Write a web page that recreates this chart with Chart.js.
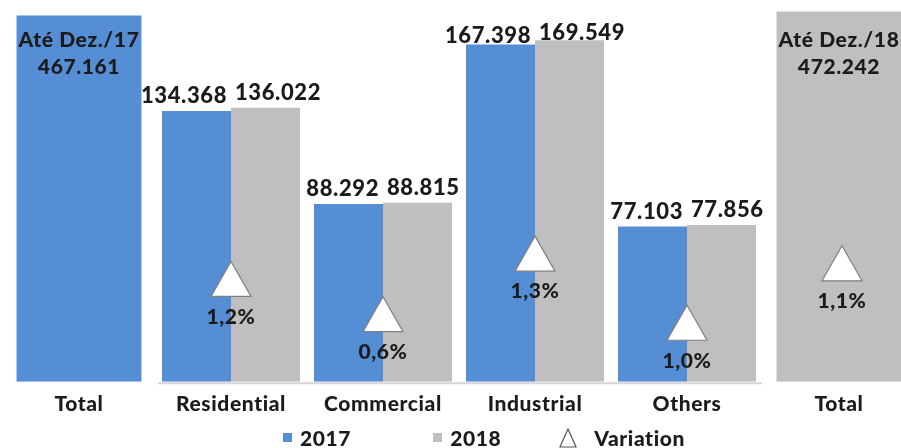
<!DOCTYPE html>
<html>
<head>
<meta charset="utf-8">
<title>Consumo por classe</title>
<script src="https://cdn.jsdelivr.net/npm/chart.js@4.4.1/dist/chart.umd.min.js"></script>
<style>
    html, body { margin: 0; padding: 0; background: #fff; overflow: hidden; }
    #wrap { position: relative; width: 918px; height: 448px; }
    #legend {
        position: absolute; top: 425px; left: 283px;
        display: flex; align-items: center;
        font: 900 21px Lato, sans-serif; letter-spacing: 0.6px; color: #1b1b1b;
    }
    #legend .item { display: flex; align-items: center; }
    #legend .swatch { width: 9px; height: 9px; margin-right: 8px; }
</style>
</head>
<body>
<div id="wrap">
    <canvas id="consumoChart"></canvas>
    <div id="legend">
        <div class="item" style="margin-right: 82px;"><span class="swatch" style="background:#558ed5"></span>2017</div>
        <div class="item" style="margin-right: 58px;"><span class="swatch" style="background:#bfbfbf"></span>2018</div>
        <div class="item">
            <svg width="18" height="20" style="margin-right: 17px;"><polygon points="9,1 17,19 1,19" fill="#fff" stroke="#555" stroke-width="1.2"/></svg>Variation
        </div>
    </div>
</div>
<script>
// Categories along the x axis (totals on both ends)
const categories = ['Total', 'Residential', 'Commercial', 'Industrial', 'Others', 'Total'];

// Consumption per class (thousands separator shown as '.')
const values2017 = [null, 134368, 88292, 167398, 77103, null];
const values2018 = [null, 136022, 88815, 169549, 77856, null];

// Yearly totals, drawn on their own axis
const total2017 = [467161, null, null, null, null, null];
const total2018 = [null, null, null, null, null, 472242];
const totalCaptions = ['Até Dez./17', null, null, null, null, 'Até Dez./18'];

// Variation 2018 vs 2017 (%)
const variation = [null, 1.2, 0.6, 1.3, 1.0, 1.1];

const BLUE = '#558ed5';
const GRAY = '#bfbfbf';
const TEXT = '#1b1b1b';
const FONT = 'Lato, sans-serif';
const SPACING = '0.6px';

function fmtThousands(v) {
    const s = String(v);
    return s.slice(0, -3) + '.' + s.slice(-3);
}

function fmtPct(v) {
    return v.toFixed(1).replace('.', ',') + '%';
}

function drawTriangle(ctx, x, cy, w, h) {
    ctx.beginPath();
    ctx.moveTo(x, cy - h / 2);
    ctx.lineTo(x + w / 2, cy + h / 2);
    ctx.lineTo(x - w / 2, cy + h / 2);
    ctx.closePath();
    ctx.fillStyle = '#ffffff';
    ctx.fill();
    ctx.strokeStyle = '#7f7f7f';
    ctx.lineWidth = 1.2;
    ctx.stroke();
}

// slightly wider tracking for every text drawn on the canvas (tick labels too)
const spacingPlugin = {
    id: 'letterSpacing',
    beforeUpdate(chart) { chart.ctx.letterSpacing = SPACING; },
    beforeDraw(chart) { chart.ctx.letterSpacing = SPACING; }
};

// Value labels, total captions and variation markers
const labelPlugin = {
    id: 'barLabels',
    afterDatasetsDraw(chart) {
        const ctx = chart.ctx;
        const area = chart.chartArea;
        const m17 = chart.getDatasetMeta(1);
        const m18 = chart.getDatasetMeta(2);
        ctx.save();
        ctx.letterSpacing = SPACING;
        ctx.textAlign = 'center';
        ctx.textBaseline = 'middle';

        // thin base line under the class bars
        const first = m17.data[1];
        const last = m18.data[4];
        ctx.strokeStyle = '#d4d4d4';
        ctx.lineWidth = 2;
        ctx.beginPath();
        ctx.moveTo(first.x - first.width / 2 - 4, area.bottom + 1.5);
        ctx.lineTo(last.x + last.width / 2 + 6, area.bottom + 1.5);
        ctx.stroke();

        // values above each pair of class bars, pushed apart when they collide
        ctx.font = '900 22px ' + FONT;
        ctx.fillStyle = TEXT;
        categories.forEach((_, i) => {
            if (values2017[i] == null) return;
            const b = m17.data[i];
            const g = m18.data[i];
            const t1 = fmtThousands(values2017[i]);
            const t2 = fmtThousands(values2018[i]);
            const w1 = ctx.measureText(t1).width;
            const w2 = ctx.measureText(t2).width;
            let c1 = b.x, c2 = g.x;
            const need = (w1 + w2) / 2 + 8 - (c2 - c1);
            if (need > 0) { c1 -= need / 2; c2 += need / 2; }
            ctx.fillText(t1, c1, Math.max(b.y - 15, area.top + 36));
            ctx.fillText(t2, c2, Math.max(g.y - 15, area.top + 33));
        });

        // captions inside the total bars
        ctx.font = '900 21px ' + FONT;
        [[0, total2017], [3, total2018]].forEach(([di, vals]) => {
            const meta = chart.getDatasetMeta(di);
            vals.forEach((v, i) => {
                if (v == null) return;
                const bar = meta.data[i];
                ctx.fillText(totalCaptions[i], bar.x, area.top + 40);
                ctx.fillText(fmtThousands(v), bar.x, area.top + 67);
            });
        });

        // variation triangles with percentage below
        variation.forEach((pct, i) => {
            if (pct == null) return;
            let x, cy;
            if (values2017[i] != null) {
                const b = m17.data[i];
                const g = m18.data[i];
                x = (b.x + g.x) / 2;
                cy = b.base - 0.38 * (b.base - b.y);
            } else {
                const t = chart.getDatasetMeta(3).data[i];
                x = t.x + 3;
                cy = t.base - 0.32 * (t.base - t.y);
            }
            drawTriangle(ctx, x, cy, 40, 35);
            ctx.font = '900 21px ' + FONT;
            ctx.fillStyle = TEXT;
            ctx.fillText(fmtPct(pct), x, cy + 38);
        });
        ctx.restore();
    }
};

const chart = new Chart(document.getElementById('consumoChart'), {
    type: 'bar',
    data: {
        labels: categories,
        datasets: [
            { label: 'Total 2017', data: total2017, yAxisID: 'y2', backgroundColor: BLUE, barPercentage: 0.905 },
            { label: '2017', data: values2017, yAxisID: 'y', backgroundColor: BLUE, barPercentage: 1 },
            { label: '2018', data: values2018, yAxisID: 'y', backgroundColor: GRAY, barPercentage: 1 },
            { label: 'Total 2018', data: total2018, yAxisID: 'y2', backgroundColor: GRAY, barPercentage: 0.905 }
        ]
    },
    options: {
        responsive: true,
        maintainAspectRatio: false,
        animation: false,
        skipNull: true,
        categoryPercentage: 0.908,
        layout: { padding: { left: 3, right: 3, top: 0, bottom: 21 } },
        plugins: {
            legend: { display: false },
            tooltip: { enabled: false }
        },
        scales: {
            x: {
                grid: { display: false, drawTicks: false },
                border: { display: false },
                ticks: {
                    padding: 10,
                    color: TEXT,
                    font: { family: FONT, size: 21, weight: 900 }
                }
            },
            y: { display: false, min: 0, max: 189500 },
            y2: { display: false, min: 0, max: 487000 }
        }
    },
    plugins: [spacingPlugin, labelPlugin]
});
</script>
</body>
</html>
